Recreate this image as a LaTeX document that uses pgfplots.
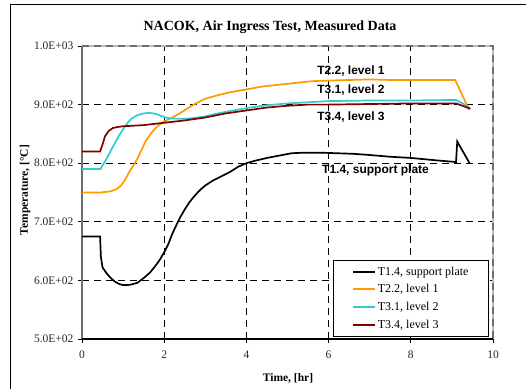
\documentclass[border=0pt]{standalone}
\usepackage{fontspec}
\setmainfont{Liberation Serif}
\newfontfamily\arial{Liberation Sans}
\usepackage{pgfplots}
\pgfplotsset{compat=1.18}
\definecolor{corange}{RGB}{255,153,0}
\definecolor{ccyan}{RGB}{51,204,204}
\definecolor{cdred}{RGB}{128,0,0}
\definecolor{framegray}{RGB}{110,110,110}
\definecolor{lightgray2}{RGB}{185,185,185}
\begin{document}
\begin{tikzpicture}[x=1pt,y=1pt]
\useasboundingbox (0,0) rectangle (526,389);
\draw[line width=1.3pt] (10.8,0) -- (10.8,384.4) -- (526,384.4);
\node[font=\bfseries\fontsize{14}{16}\selectfont] at (270,362) {NACOK, Air Ingress Test, Measured Data};
\node[rotate=90, font=\bfseries\fontsize{11.5}{13}\selectfont] at (25,199) {Temperature, [°C]};
\node[font=\bfseries\fontsize{11.5}{13}\selectfont] at (288,11) {Time, [hr]};
\begin{axis}[
  at={(82pt,50pt)}, anchor=south west,
  width=411pt, height=293pt, scale only axis,
  xmin=0, xmax=10, ymin=500, ymax=1000,
  xtick={0,2,4,6,8,10},
  ytick={500,600,700,800,900,1000},
  yticklabels={5.0E+02,6.0E+02,7.0E+02,8.0E+02,9.0E+02,1.0E+03},
  grid=major,
  major grid style={black, line width=0.9pt, dash pattern=on 7pt off 5pt},
  axis line style={draw=none},
  tick pos=left,
  tick align=outside,
  major tick length=4pt,
  tick style={black, line width=0.8pt},
  ticklabel style={font=\fontsize{11.5}{12}\selectfont, text=black!85},
  /pgf/number format/assume math mode=true,
  xticklabel style={yshift=-4pt},
  yticklabel style={xshift=-1pt},
  clip=false,
  legend style={at={(0.990,0.007)}, anchor=south east, draw=black, line width=0.8pt,
    font=\fontsize{12}{14}\selectfont, cells={anchor=west}, inner xsep=18pt, inner ysep=4.5pt, row sep=4pt},
  legend image code/.code={\draw[#1, line width=2pt] (0pt,0pt) -- (22pt,0pt);},
]
\draw[lightgray2, line width=2pt] (rel axis cs:0,1) -- (rel axis cs:1,1) -- (rel axis cs:1,0);
\draw[framegray, line width=2pt, dash pattern=on 7pt off 5pt] (rel axis cs:0,1) -- (rel axis cs:1,1) -- (rel axis cs:1,0);
\draw[framegray, line width=2pt] (rel axis cs:0,0) -- (rel axis cs:0,1);
\draw[black, line width=1.3pt] (rel axis cs:0,0) -- (rel axis cs:1,0);

\addplot[black, line width=1.7pt] coordinates {
(0,675) (0.44,675) (0.46,640) (0.5,622) (0.6,612) (0.7,604) (0.8,598) (0.9,594) (1.0,592) (1.1,592) (1.2,593) (1.35,596) (1.5,604) (1.65,613) (1.8,626) (1.9,636) (2.0,648) (2.1,662) (2.2,680) (2.3,695) (2.4,709) (2.5,721) (2.6,732) (2.7,741) (2.8,749) (2.9,756) (3.0,762) (3.2,771) (3.4,778) (3.6,785) (3.8,794) (4.0,800) (4.2,804) (4.5,809) (4.8,813) (5.1,817) (5.4,818) (5.8,818) (6.2,817) (6.6,816) (7.0,814) (7.5,811) (8.0,809) (8.6,805) (9.1,802) (9.13,837) (9.43,800)
};
\addlegendentry{T1.4, support plate}
\addplot[corange, line width=1.7pt] coordinates {
(0,750) (0.44,750) (0.7,752) (0.85,756) (0.95,762) (1.05,772) (1.15,785) (1.25,796) (1.35,808) (1.45,823) (1.55,838) (1.65,848) (1.75,857) (1.85,864) (2.0,871) (2.2,878) (2.4,886) (2.6,895) (2.8,903) (3.0,910) (3.3,916) (3.6,921) (4.0,926) (4.4,931) (4.8,934) (5.2,937) (5.6,940) (6.0,941) (6.5,942) (7.0,943) (7.5,942) (8.0,942) (8.5,942) (9.08,942) (9.42,891)
};
\addlegendentry{T2.2, level 1}
\addplot[ccyan, line width=1.7pt] coordinates {
(0,790) (0.45,790) (0.6,808) (0.75,828) (0.9,847) (1.0,858) (1.1,868) (1.2,876) (1.35,882) (1.5,885) (1.65,886) (1.8,884) (1.95,880) (2.1,877) (2.3,876) (2.5,876) (2.7,877) (3.0,880) (3.3,885) (3.6,889) (4.0,894) (4.5,899) (5.0,902) (5.5,904) (6.0,906) (7.0,907) (8.0,907) (9.1,908) (9.42,896)
};
\addlegendentry{T3.1, level 2}
\addplot[cdred, line width=1.7pt] coordinates {
(0,820) (0.44,820) (0.5,832) (0.56,846) (0.65,855) (0.75,860) (0.88,862) (1.0,863) (1.5,865) (2.0,869) (2.5,873) (3.0,878) (3.5,885) (4.0,890) (4.5,895) (5.0,898) (5.5,900) (6.0,900) (7.0,901) (8.0,902) (9.1,902) (9.45,893)
};
\addlegendentry{T3.4, level 3}

\node[anchor=west, font=\arial\bfseries\fontsize{12}{14}\selectfont, inner sep=0pt] at (axis cs:5.72,957) {T2.2, level 1};
\node[anchor=west, font=\arial\bfseries\fontsize{12}{14}\selectfont, inner sep=0pt] at (axis cs:5.72,925) {T3.1, level 2};
\node[anchor=west, font=\arial\bfseries\fontsize{12}{14}\selectfont, inner sep=0pt] at (axis cs:5.72,878) {T3.4, level 3};
\node[anchor=west, font=\arial\bfseries\fontsize{12}{14}\selectfont, inner sep=0pt] at (axis cs:5.84,787) {T1.4, support plate};
\end{axis}
\end{tikzpicture}
\end{document}
